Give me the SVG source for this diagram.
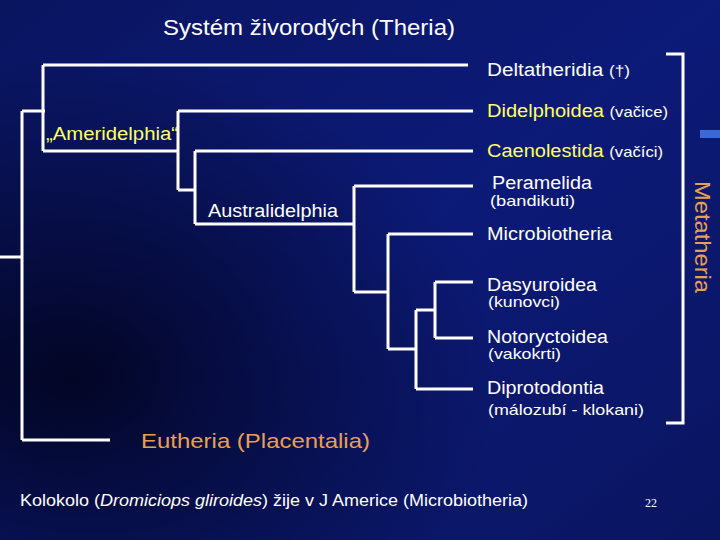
<svg xmlns="http://www.w3.org/2000/svg" width="720" height="540" viewBox="0 0 720 540">
<defs>
<linearGradient id="bg" x1="0" y1="0" x2="1" y2="1">
<stop offset="0" stop-color="#0a1560"/><stop offset="0.5" stop-color="#0c1a78"/><stop offset="1" stop-color="#0a1560"/>
</linearGradient>
<radialGradient id="dk" cx="0.1" cy="0.7" r="0.6">
<stop offset="0" stop-color="#000010" stop-opacity="0.8"/><stop offset="1" stop-color="#000010" stop-opacity="0"/>
</radialGradient>
<style>
.l{stroke:#fff;stroke-width:3;fill:none}
text{font-family:"Liberation Sans",Arial,sans-serif;fill:#fff}
.t{font-size:18px}
.s{font-size:15px}
.y{fill:#ffff66}
.o{fill:#e8a050}
</style>
</defs>
<rect width="720" height="540" fill="url(#bg)"/>
<rect width="720" height="540" fill="url(#dk)"/>
<rect x="700" y="130" width="20" height="8" fill="#3a6ad8"/>
<text x="163" y="35" font-size="22" textLength="292" lengthAdjust="spacingAndGlyphs">Systém živorodých (Theria)</text>
<g id="connectors">
<path class="l" d="M0 257H22M22 111V440M22 111H45M22 440H110"/>
<path class="l" d="M43 65V151M43 65H468M43 151H178"/>
<path class="l" d="M178 111V190M178 111H473M178 190H195"/>
<path class="l" d="M195 151V224M195 151H473M195 224H354"/>
<path class="l" d="M354 186V292M354 186H473M354 292H388"/>
<path class="l" d="M388 234V349M388 234H473M388 349H416"/>
<path class="l" d="M416 310V389M416 389H473M416 310H435"/>
<path class="l" d="M435 282V338M435 282H473M435 338H473"/>
<path class="l" d="M666 54H683V423H666"/>
</g>
<g id="deltatheridia"><text x="487" y="76" class="t" textLength="143" lengthAdjust="spacingAndGlyphs">Deltatheridia <tspan class="s">(†)</tspan></text></g>
<g id="didelphoidea"><text x="487" y="117" class="t" textLength="181" lengthAdjust="spacingAndGlyphs"><tspan class="y">Didelphoidea</tspan> <tspan class="s">(vačice)</tspan></text></g>
<g id="caenolestida"><text x="487" y="157" class="t" textLength="176" lengthAdjust="spacingAndGlyphs"><tspan class="y">Caenolestida</tspan> <tspan class="s">(vačíci)</tspan></text></g>
<g id="peramelida"><text x="492" y="189" class="t" textLength="100" lengthAdjust="spacingAndGlyphs">Peramelida</text><text x="490" y="206" class="s" textLength="85" lengthAdjust="spacingAndGlyphs">(bandikuti)</text></g>
<g id="microbiotheria"><text x="487" y="240" class="t" textLength="125" lengthAdjust="spacingAndGlyphs">Microbiotheria</text></g>
<g id="dasyuroidea"><text x="487" y="291" class="t" textLength="110" lengthAdjust="spacingAndGlyphs">Dasyuroidea</text><text x="488" y="307" class="s" textLength="72" lengthAdjust="spacingAndGlyphs">(kunovci)</text></g>
<g id="notoryctoidea"><text x="487" y="343" class="t" textLength="121" lengthAdjust="spacingAndGlyphs">Notoryctoidea</text><text x="488" y="359" class="s" textLength="73" lengthAdjust="spacingAndGlyphs">(vakokrti)</text></g>
<g id="diprotodontia"><text x="487" y="394" class="t" textLength="117" lengthAdjust="spacingAndGlyphs">Diprotodontia</text><text x="488" y="415" class="s" textLength="156" lengthAdjust="spacingAndGlyphs">(málozubí - klokani)</text></g>
<g id="ameridelphia"><text x="46" y="140" class="t y" textLength="132" lengthAdjust="spacingAndGlyphs">„Ameridelphia“</text></g>
<g id="australidelphia"><text x="208" y="217" class="t" textLength="130" lengthAdjust="spacingAndGlyphs">Australidelphia</text></g>
<g id="eutheria"><text x="141" y="448" font-size="21" class="o" textLength="229" lengthAdjust="spacingAndGlyphs">Eutheria (Placentalia)</text></g>
<g id="metatheria"><text transform="translate(695,237) rotate(90)" text-anchor="middle" font-size="22" class="o" textLength="112" lengthAdjust="spacingAndGlyphs">Metatheria</text></g>
<text x="20" y="506" font-size="16" textLength="508" lengthAdjust="spacingAndGlyphs">Kolokolo (<tspan font-style="italic">Dromiciops gliroides</tspan>) žije v J Americe (Microbiotheria)</text>
<text x="645" y="507" font-size="12" style="font-family:'Liberation Serif',serif">22</text>
</svg>
